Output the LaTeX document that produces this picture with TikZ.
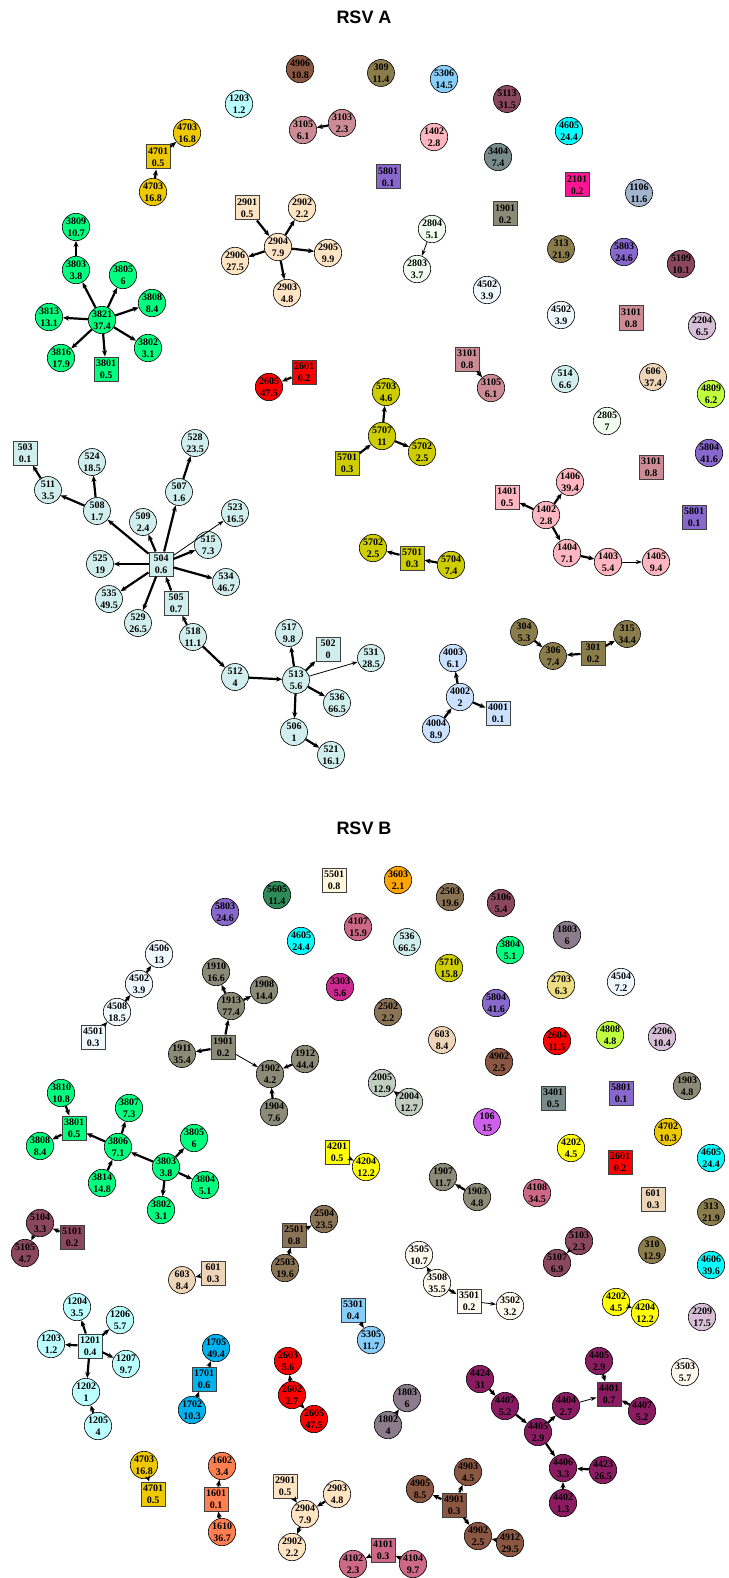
\documentclass[tikz,border=0pt]{standalone}
\usepackage{fontspec}
\setmainfont{Liberation Serif}
\newfontfamily\titlefont{Liberation Sans}
\usetikzlibrary{arrows.meta}
\definecolor{cFA}{HTML}{8B5742}
\definecolor{cOL}{HTML}{8B7D4B}
\definecolor{cBU}{HTML}{8B7355}
\definecolor{cGY}{HTML}{8B8B78}
\definecolor{cTH}{HTML}{8B7B8B}
\definecolor{cSL}{HTML}{7A8B8B}
\definecolor{cMP}{HTML}{8B475D}
\definecolor{cMR}{HTML}{8B1C62}
\definecolor{cPV}{HTML}{CD6889}
\definecolor{cMV}{HTML}{CD2990}
\definecolor{cRO}{HTML}{CD8C95}
\definecolor{cLP}{HTML}{FFB6C1}
\definecolor{cSK}{HTML}{87CEFA}
\definecolor{cDS}{HTML}{00B2EE}
\definecolor{cPC}{HTML}{BBFFFF}
\definecolor{cLC}{HTML}{D1EEEE}
\definecolor{cLS}{HTML}{CAE1FF}
\definecolor{cL3}{HTML}{A2B5CD}
\definecolor{cHD}{HTML}{F0FFF0}
\definecolor{cAB}{HTML}{F0F8FF}
\definecolor{cFW}{HTML}{FFFAF0}
\definecolor{cCS}{HTML}{FFF8DC}
\definecolor{cBQ}{HTML}{FFE4C4}
\definecolor{cB2}{HTML}{EED5B7}
\definecolor{cGO}{HTML}{EEC900}
\definecolor{cY3}{HTML}{CDCD00}
\definecolor{cYE}{HTML}{FFFF00}
\definecolor{cOR}{HTML}{FFA500}
\definecolor{cLG}{HTML}{EEDD82}
\definecolor{cOD}{HTML}{C0FF3E}
\definecolor{cTS}{HTML}{D8BFD8}
\definecolor{cCY}{HTML}{00FFFF}
\definecolor{cPU}{HTML}{8968CD}
\definecolor{cDP}{HTML}{FF1493}
\definecolor{cRE}{HTML}{FF0000}
\definecolor{cCO}{HTML}{FF7F50}
\definecolor{cSG}{HTML}{00FF7F}
\definecolor{cOC}{HTML}{D15FEE}
\definecolor{cSE}{HTML}{2E8B57}
\definecolor{cH3}{HTML}{C1CDC1}
\begin{document}
\begin{tikzpicture}[x=1pt,y=-1pt,
  cn/.style={circle,draw=black,line width=0.6pt,minimum size=27pt,inner sep=0pt,align=center,font=\bfseries\fontsize{10}{12}\selectfont},
  sq/.style={rectangle,draw=black!75,line width=1pt,minimum size=24pt,inner sep=0pt,align=center,font=\bfseries\fontsize{10}{12}\selectfont},
  ed/.style={line width=2.2pt,-{Stealth[length=6pt,width=5pt]}},
  edt/.style={line width=0.8pt,-{Stealth[length=6pt,width=4pt]}},
  ttl/.style={font=\titlefont\bfseries\fontsize{18}{20}\selectfont}]
\useasboundingbox (0,0) rectangle (728,1578);
\node[ttl] (tA) at (364,17) {RSV A};
\node[ttl] (tB) at (364,828) {RSV B};
% ---------- RSV A ----------
\node[cn,fill=cFA] (a4906) at (300,69) {4906\\10.8};
\node[cn,fill=cPC] (a1203) at (239,104) {1203\\1.2};
\node[cn,fill=cRO] (a3105a) at (303,130) {3105\\6.1};
\node[cn,fill=cRO] (a3103) at (342,123) {3103\\2.3};
\node[cn,fill=cGO] (a4703a) at (187,133) {4703\\16.8};
\node[sq,fill=cGO] (a4701) at (158,157) {4701\\0.5};
\node[cn,fill=cGO] (a4703b) at (153,192) {4703\\16.8};
\node[cn,fill=cOL] (a309) at (381,73) {309\\11.4};
\node[cn,fill=cSK] (a5306) at (444,79) {5306\\14.5};
\node[cn,fill=cMP] (a5113) at (507,99) {5113\\31.5};
\node[cn,fill=cCY] (a4605) at (569,131) {4605\\24.4};
\node[cn,fill=cLP] (a1402a) at (434,137) {1402\\2.8};
\node[cn,fill=cSL] (a3404) at (498,157) {3404\\7.4};
\node[sq,fill=cPU] (a5801a) at (388,177) {5801\\0.1};
\node[sq,fill=cDP] (a2101) at (577,185) {2101\\0.2};
\node[cn,fill=cL3] (a1106) at (639,193) {1106\\11.6};
\node[sq,fill=cGY] (a1901) at (505,214) {1901\\0.2};
\node[cn,fill=cHD] (a2804) at (432,229) {2804\\5.1};
\node[cn,fill=cHD] (a2803) at (417,269) {2803\\3.7};
\node[cn,fill=cOL] (a313) at (561,249) {313\\21.9};
\node[cn,fill=cPU] (a5803) at (624,252) {5803\\24.6};
\node[cn,fill=cMP] (a5109) at (681,264) {5109\\10.1};
\node[cn,fill=cSG] (a3809) at (76,227) {3809\\10.7};
\node[cn,fill=cSG] (a3803) at (76,270) {3803\\3.8};
\node[cn,fill=cSG] (a3805) at (123,275) {3805\\6};
\node[cn,fill=cSG] (a3808) at (152,303) {3808\\8.4};
\node[cn,fill=cSG] (a3821) at (102,320) {3821\\37.4};
\node[cn,fill=cSG] (a3813) at (49,317) {3813\\13.1};
\node[cn,fill=cSG] (a3816) at (61,358) {3816\\17.9};
\node[sq,fill=cSG] (a3801) at (106,369) {3801\\0.5};
\node[cn,fill=cSG] (a3802) at (148,348) {3802\\3.1};
\node[sq,fill=cBQ] (a2901) at (247,208) {2901\\0.5};
\node[cn,fill=cBQ] (a2902) at (302,208) {2902\\2.2};
\node[cn,fill=cBQ] (a2904) at (278,247) {2904\\7.9};
\node[cn,fill=cBQ] (a2905) at (328,253) {2905\\9.9};
\node[cn,fill=cBQ] (a2906) at (235,261) {2906\\27.5};
\node[cn,fill=cBQ] (a2903) at (287,293) {2903\\4.8};
\node[cn,fill=cAB] (a4502a) at (487,290) {4502\\3.9};
\node[cn,fill=cAB] (a4502b) at (561,315) {4502\\3.9};
\node[sq,fill=cRO] (a3101a) at (631,318) {3101\\0.8};
\node[cn,fill=cTS] (a2204) at (702,326) {2204\\6.5};
\node[sq,fill=cRO] (a3101b) at (467,359) {3101\\0.8};
\node[cn,fill=cRO] (a3105b) at (491,388) {3105\\6.1};
\node[cn,fill=cLC] (a514) at (565,379) {514\\6.6};
\node[cn,fill=cB2] (a606) at (653,377) {606\\37.4};
\node[cn,fill=cOD] (a4809) at (711,394) {4809\\6.2};
\node[cn,fill=cHD] (a2805) at (607,421) {2805\\7};
\node[cn,fill=cY3] (a5703) at (386,392) {5703\\4.6};
\node[cn,fill=cY3] (a5707) at (382,436) {5707\\11};
\node[cn,fill=cY3] (a5702a) at (422,452) {5702\\2.5};
\node[sq,fill=cY3] (a5701a) at (347,463) {5701\\0.3};
\node[sq,fill=cRO] (a3101c) at (651,467) {3101\\0.8};
\node[cn,fill=cPU] (a5804) at (709,453) {5804\\41.6};
\node[cn,fill=cLP] (a1406) at (570,482) {1406\\39.4};
\node[sq,fill=cLP] (a1401) at (507,497) {1401\\0.5};
\node[cn,fill=cLP] (a1402b) at (546,515) {1402\\2.8};
\node[sq,fill=cPU] (a5801b) at (694,517) {5801\\0.1};
\node[sq,fill=cRE] (a2601) at (304,372) {2601\\0.2};
\node[cn,fill=cRE] (a2605) at (269,387) {2605\\47.5};
\node[sq,fill=cLC] (a503) at (25,453) {503\\0.1};
\node[cn,fill=cLC] (a524) at (92,462) {524\\18.5};
\node[cn,fill=cLC] (a528) at (195,443) {528\\23.5};
\node[cn,fill=cLC] (a511) at (48,490) {511\\3.5};
\node[cn,fill=cLC] (a507) at (179,492) {507\\1.6};
\node[cn,fill=cLC] (a508) at (97,511) {508\\1.7};
\node[cn,fill=cLC] (a523) at (235,513) {523\\16.5};
\node[cn,fill=cLC] (a509) at (143,522) {509\\2.4};
\node[cn,fill=cLC] (a515) at (208,545) {515\\7.3};
\node[sq,fill=cLC] (a504) at (161,564) {504\\0.6};
\node[cn,fill=cLC] (a525) at (100,564) {525\\19};
\node[cn,fill=cLC] (a534) at (226,582) {534\\46.7};
\node[cn,fill=cLC] (a535) at (109,599) {535\\49.5};
\node[sq,fill=cLC] (a505) at (176,603) {505\\0.7};
\node[cn,fill=cLC] (a529) at (138,623) {529\\26.5};
\node[cn,fill=cLC] (a518) at (193,637) {518\\11.1};
\node[cn,fill=cLC] (a517) at (289,633) {517\\9.8};
\node[sq,fill=cLC] (a502) at (328,649) {502\\0};
\node[cn,fill=cLC] (a512) at (235,677) {512\\4};
\node[cn,fill=cLC] (a513) at (296,680) {513\\5.6};
\node[cn,fill=cLC] (a536) at (337,703) {536\\66.5};
\node[cn,fill=cLC] (a506) at (294,732) {506\\1};
\node[cn,fill=cLC] (a521) at (331,755) {521\\16.1};
\node[cn,fill=cLC] (a531) at (371,658) {531\\28.5};
\node[cn,fill=cLP] (a1404) at (567,553) {1404\\7.1};
\node[cn,fill=cLP] (a1403) at (608,562) {1403\\5.4};
\node[cn,fill=cLP] (a1405) at (656,562) {1405\\9.4};
\node[cn,fill=cY3] (a5702b) at (373,548) {5702\\2.5};
\node[sq,fill=cY3] (a5701b) at (412,558) {5701\\0.3};
\node[cn,fill=cY3] (a5704) at (451,565) {5704\\7.4};
\node[cn,fill=cOL] (a304) at (524,632) {304\\5.3};
\node[cn,fill=cOL] (a306) at (553,656) {306\\7.4};
\node[sq,fill=cOL] (a301) at (593,653) {301\\0.2};
\node[cn,fill=cOL] (a315) at (627,634) {315\\34.4};
\node[cn,fill=cLS] (a4003) at (453,658) {4003\\6.1};
\node[cn,fill=cLS] (a4002) at (460,697) {4002\\2};
\node[sq,fill=cLS] (a4001) at (498,713) {4001\\0.1};
\node[cn,fill=cLS] (a4004) at (436,729) {4004\\8.9};
% edges A
\draw[ed] (a3103) -- (a3105a);
\draw[ed] (a4701) -- (a4703a);
\draw[ed] (a4703b) -- (a4701);
\draw[ed] (a3803) -- (a3809);
\foreach \t in {a3803,a3805,a3808,a3813,a3816,a3801,a3802} \draw[ed] (a3821) -- (\t);
\draw[ed] (a2901) -- (a2904);
\foreach \t in {a2902,a2905,a2906,a2903} \draw[ed] (a2904) -- (\t);
\draw[edt] (a2804) -- (a2803);
\draw[ed] (a3101b) -- (a3105b);
\draw[ed] (a5707) -- (a5703);
\draw[ed] (a5707) -- (a5702a);
\draw[ed] (a5701a) -- (a5707);
\draw[ed] (a2601) -- (a2605);
\draw[ed] (a1402b) -- (a1406);
\draw[ed] (a1402b) -- (a1401);
\draw[ed] (a1402b) -- (a1404);
\draw[ed] (a1404) -- (a1403);
\draw[edt] (a1403) -- (a1405);
\draw[ed] (a5701b) -- (a5702b);
\draw[ed] (a5704) -- (a5701b);
\draw[ed] (a304) -- (a306);
\draw[ed] (a301) -- (a306);
\draw[ed] (a301) -- (a315);
\draw[ed] (a4002) -- (a4003);
\draw[ed] (a4002) -- (a4001);
\draw[ed] (a4004) -- (a4002);
\draw[ed] (a511) -- (a503);
\draw[ed] (a508) -- (a511);
\draw[ed] (a508) -- (a524);
\draw[ed] (a507) -- (a528);
\foreach \t in {a508,a509,a507,a515,a525,a534,a535,a529} \draw[ed] (a504) -- (\t);
\draw[edt] (a504) -- (a523);
\draw[ed] (a505) -- (a504);
\draw[ed] (a518) -- (a505);
\draw[ed] (a518) -- (a512);
\draw[ed] (a512) -- (a513);
\foreach \t in {a517,a502,a536,a506} \draw[ed] (a513) -- (\t);
\draw[edt] (a513) -- (a531);
\draw[ed] (a506) -- (a521);
% ---------- RSV B ----------
\node[sq,fill=cCS] (b5501) at (334,880) {5501\\0.8};
\node[cn,fill=cSE] (b5605) at (277,895) {5605\\11.4};
\node[cn,fill=cPU] (b5803) at (225,912) {5803\\24.6};
\node[cn,fill=cCY] (b4605a) at (301,941) {4605\\24.4};
\node[cn,fill=cPV] (b4107) at (358,927) {4107\\15.9};
\node[cn,fill=cOR] (b3603) at (398,880) {3603\\2.1};
\node[cn,fill=cBU] (b2503a) at (450,897) {2503\\19.6};
\node[cn,fill=cMP] (b5106) at (501,903) {5106\\5.4};
\node[cn,fill=cLC] (b536) at (407,942) {536\\66.5};
\node[cn,fill=cTH] (b1803a) at (567,935) {1803\\6};
\node[cn,fill=cSG] (b3804a) at (510,950) {3804\\5.1};
\node[cn,fill=cY3] (b5710) at (449,968) {5710\\15.8};
\node[cn,fill=cLG] (b2703) at (561,985) {2703\\6.3};
\node[cn,fill=cAB] (b4504) at (621,982) {4504\\7.2};
\node[cn,fill=cPU] (b5804) at (496,1003) {5804\\41.6};
\node[cn,fill=cBU] (b2502) at (388,1012) {2502\\2.2};
\node[cn,fill=cB2] (b603a) at (442,1040) {603\\8.4};
\node[cn,fill=cRE] (b2604) at (557,1041) {2604\\11.5};
\node[cn,fill=cOD] (b4808) at (610,1035) {4808\\4.8};
\node[cn,fill=cTS] (b2206) at (662,1037) {2206\\10.4};
\node[cn,fill=cFA] (b4902a) at (499,1062) {4902\\2.5};
\node[cn,fill=cAB] (b4506) at (159,954) {4506\\13};
\node[cn,fill=cAB] (b4502) at (139,984) {4502\\3.9};
\node[cn,fill=cAB] (b4508) at (117,1012) {4508\\18.5};
\node[sq,fill=cAB] (b4501) at (93,1037) {4501\\0.3};
\node[cn,fill=cGY] (b1910) at (216,972) {1910\\16.6};
\node[cn,fill=cGY] (b1908) at (264,990) {1908\\14.4};
\node[cn,fill=cGY] (b1913) at (231,1006) {1913\\77.4};
\node[cn,fill=cMV] (b3303) at (340,987) {3303\\5.6};
\node[sq,fill=cGY] (b1901) at (223,1047) {1901\\0.2};
\node[cn,fill=cGY] (b1911) at (182,1054) {1911\\35.4};
\node[cn,fill=cGY] (b1912) at (305,1059) {1912\\44.4};
\node[cn,fill=cGY] (b1902) at (270,1074) {1902\\4.2};
\node[cn,fill=cGY] (b1904) at (274,1112) {1904\\7.6};
\node[cn,fill=cH3] (b2005) at (382,1083) {2005\\12.9};
\node[cn,fill=cH3] (b2004) at (409,1102) {2004\\12.7};
\node[sq,fill=cSL] (b3401) at (553,1098) {3401\\0.5};
\node[sq,fill=cPU] (b5801) at (621,1093) {5801\\0.1};
\node[cn,fill=cGY] (b1903a) at (687,1086) {1903\\4.8};
\node[cn,fill=cOC] (b106) at (487,1122) {106\\15};
\node[cn,fill=cGO] (b4702) at (668,1132) {4702\\10.3};
\node[cn,fill=cYE] (b4202a) at (571,1148) {4202\\4.5};
\node[sq,fill=cRE] (b2601) at (620,1162) {2601\\0.2};
\node[cn,fill=cCY] (b4605b) at (711,1158) {4605\\24.4};
\node[cn,fill=cGY] (b1907) at (443,1177) {1907\\11.7};
\node[cn,fill=cGY] (b1903b) at (477,1197) {1903\\4.8};
\node[cn,fill=cPV] (b4108) at (537,1193) {4108\\34.5};
\node[sq,fill=cB2] (b601a) at (653,1199) {601\\0.3};
\node[cn,fill=cOL] (b313) at (711,1212) {313\\21.9};
\node[cn,fill=cMP] (b5103) at (579,1241) {5103\\2.3};
\node[cn,fill=cMP] (b5107) at (557,1263) {5107\\6.9};
\node[cn,fill=cOL] (b310) at (652,1250) {310\\12.9};
\node[cn,fill=cCY] (b4606) at (711,1265) {4606\\39.6};
\node[cn,fill=cFW] (b3505) at (419,1255) {3505\\10.7};
\node[cn,fill=cFW] (b3508) at (437,1283) {3508\\35.5};
\node[sq,fill=cFW] (b3501) at (469,1301) {3501\\0.2};
\node[cn,fill=cFW] (b3502) at (510,1306) {3502\\3.2};
\node[cn,fill=cYE] (b4202b) at (616,1302) {4202\\4.5};
\node[cn,fill=cYE] (b4204b) at (645,1313) {4204\\12.2};
\node[cn,fill=cTS] (b2209) at (702,1317) {2209\\17.5};
\node[cn,fill=cSG] (b3810) at (61,1093) {3810\\10.8};
\node[cn,fill=cSG] (b3807) at (129,1108) {3807\\7.3};
\node[sq,fill=cSG] (b3801) at (74,1128) {3801\\0.5};
\node[cn,fill=cSG] (b3808) at (40,1146) {3808\\8.4};
\node[cn,fill=cSG] (b3806) at (118,1147) {3806\\7.1};
\node[cn,fill=cSG] (b3805) at (194,1138) {3805\\6};
\node[cn,fill=cSG] (b3803) at (166,1167) {3803\\3.8};
\node[cn,fill=cSG] (b3804b) at (205,1185) {3804\\5.1};
\node[cn,fill=cSG] (b3814) at (102,1183) {3814\\14.8};
\node[cn,fill=cSG] (b3802) at (161,1210) {3802\\3.1};
\node[sq,fill=cYE] (b4201) at (337,1152) {4201\\0.5};
\node[cn,fill=cYE] (b4204a) at (366,1167) {4204\\12.2};
\node[cn,fill=cMP] (b5104) at (40,1223) {5104\\3.3};
\node[sq,fill=cMP] (b5101) at (72,1237) {5101\\0.2};
\node[cn,fill=cMP] (b5105) at (25,1253) {5105\\4.7};
\node[cn,fill=cBU] (b2504) at (324,1219) {2504\\23.5};
\node[sq,fill=cBU] (b2501) at (294,1235) {2501\\0.8};
\node[cn,fill=cBU] (b2503b) at (285,1268) {2503\\19.6};
\node[cn,fill=cB2] (b603b) at (182,1280) {603\\8.4};
\node[sq,fill=cB2] (b601b) at (213,1273) {601\\0.3};
\node[sq,fill=cSK] (b5301) at (353,1310) {5301\\0.4};
\node[cn,fill=cSK] (b5305) at (371,1340) {5305\\11.7};
\node[cn,fill=cPC] (b1204) at (77,1307) {1204\\3.5};
\node[cn,fill=cPC] (b1206) at (120,1320) {1206\\5.7};
\node[cn,fill=cPC] (b1203) at (51,1344) {1203\\1.2};
\node[sq,fill=cPC] (b1201) at (90,1346) {1201\\0.4};
\node[cn,fill=cPC] (b1207) at (126,1364) {1207\\9.7};
\node[cn,fill=cPC] (b1202) at (86,1392) {1202\\1};
\node[cn,fill=cPC] (b1205) at (98,1426) {1205\\4};
\node[cn,fill=cDS] (b1705) at (216,1348) {1705\\49.4};
\node[sq,fill=cDS] (b1701) at (204,1379) {1701\\0.6};
\node[cn,fill=cDS] (b1702) at (192,1410) {1702\\10.3};
\node[cn,fill=cRE] (b2603) at (288,1361) {2603\\5.6};
\node[cn,fill=cRE] (b2602) at (292,1395) {2602\\2.7};
\node[cn,fill=cRE] (b2605) at (314,1419) {2605\\47.5};
\node[cn,fill=cGO] (b4703) at (144,1465) {4703\\16.8};
\node[sq,fill=cGO] (b4701) at (153,1494) {4701\\0.5};
\node[cn,fill=cCO] (b1602) at (222,1466) {1602\\3.4};
\node[sq,fill=cCO] (b1601) at (216,1499) {1601\\0.1};
\node[cn,fill=cCO] (b1610) at (222,1532) {1610\\36.7};
\node[sq,fill=cBQ] (b2901) at (285,1486) {2901\\0.5};
\node[cn,fill=cBQ] (b2903) at (337,1494) {2903\\4.8};
\node[cn,fill=cBQ] (b2904) at (305,1514) {2904\\7.9};
\node[cn,fill=cBQ] (b2902) at (292,1547) {2902\\2.2};
\node[cn,fill=cPV] (b4102) at (353,1564) {4102\\2.3};
\node[sq,fill=cPV] (b4101) at (383,1550) {4101\\0.3};
\node[cn,fill=cPV] (b4104) at (413,1564) {4104\\9.7};
\node[cn,fill=cMR] (b4405a) at (599,1361) {4405\\2.9};
\node[cn,fill=cFW] (b3503) at (685,1372) {3503\\5.7};
\node[cn,fill=cMR] (b4424) at (480,1379) {4424\\31};
\node[sq,fill=cMR] (b4401) at (609,1394) {4401\\0.7};
\node[cn,fill=cMR] (b4404) at (566,1406) {4404\\2.7};
\node[cn,fill=cMR] (b4407a) at (505,1406) {4407\\5.2};
\node[cn,fill=cMR] (b4407b) at (642,1411) {4407\\5.2};
\node[cn,fill=cTH] (b1803b) at (407,1398) {1803\\6};
\node[cn,fill=cTH] (b1802) at (388,1425) {1802\\4};
\node[cn,fill=cMR] (b4405b) at (538,1432) {4405\\2.9};
\node[cn,fill=cMR] (b4406) at (563,1468) {4406\\3.3};
\node[cn,fill=cMR] (b4423) at (603,1470) {4423\\26.5};
\node[cn,fill=cMR] (b4402) at (563,1503) {4402\\1.3};
\node[cn,fill=cFA] (b4903) at (468,1472) {4903\\4.5};
\node[cn,fill=cFA] (b4905) at (420,1489) {4905\\8.5};
\node[sq,fill=cFA] (b4901) at (454,1505) {4901\\0.3};
\node[cn,fill=cFA] (b4902b) at (478,1536) {4902\\2.5};
\node[cn,fill=cFA] (b4912) at (510,1543) {4912\\29.5};
% edges B
\draw[ed] (b4502) -- (b4506);
\draw[ed] (b4508) -- (b4502);
\draw[ed] (b4501) -- (b4508);
\draw[ed] (b1913) -- (b1910);
\draw[ed] (b1913) -- (b1908);
\draw[ed] (b1901) -- (b1913);
\draw[ed] (b1901) -- (b1911);
\draw[edt] (b1901) -- (b1902);
\draw[ed] (b1912) -- (b1902);
\draw[ed] (b1904) -- (b1902);
\draw[ed] (b2004) -- (b2005);
\draw[ed] (b1903b) -- (b1907);
\draw[ed] (b5103) -- (b5107);
\draw[ed] (b3508) -- (b3505);
\draw[ed] (b3508) -- (b3501);
\draw[edt] (b3501) -- (b3502);
\draw[ed] (b4202b) -- (b4204b);
\draw[ed] (b3810) -- (b3801);
\draw[ed] (b3801) -- (b3808);
\draw[ed] (b3806) -- (b3801);
\draw[ed] (b3806) -- (b3807);
\draw[ed] (b3814) -- (b3806);
\draw[ed] (b3803) -- (b3806);
\draw[ed] (b3803) -- (b3805);
\draw[ed] (b3803) -- (b3804b);
\draw[ed] (b3803) -- (b3802);
\draw[ed] (b4201) -- (b4204a);
\draw[ed] (b5101) -- (b5104);
\draw[ed] (b5104) -- (b5105);
\draw[ed] (b2501) -- (b2504);
\draw[ed] (b2503b) -- (b2501);
\draw[ed] (b601b) -- (b603b);
\draw[ed] (b5301) -- (b5305);
\foreach \t in {b1204,b1206,b1203,b1207,b1202} \draw[ed] (b1201) -- (\t);
\draw[ed] (b1205) -- (b1202);
\draw[ed] (b1701) -- (b1705);
\draw[ed] (b1702) -- (b1701);
\draw[ed] (b2602) -- (b2603);
\draw[ed] (b2602) -- (b2605);
\draw[ed] (b4703) -- (b4701);
\draw[ed] (b1601) -- (b1602);
\draw[ed] (b1610) -- (b1601);
\draw[ed] (b2901) -- (b2904);
\draw[ed] (b2903) -- (b2904);
\draw[ed] (b2904) -- (b2902);
\draw[ed] (b4101) -- (b4102);
\draw[ed] (b4104) -- (b4101);
\draw[ed] (b4405a) -- (b4401);
\draw[ed] (b4407b) -- (b4401);
\draw[edt] (b4404) -- (b4401);
\draw[ed] (b4405b) -- (b4404);
\draw[ed] (b4424) -- (b4407a);
\draw[ed] (b4407a) -- (b4405b);
\draw[ed] (b4405b) -- (b4406);
\draw[ed] (b4423) -- (b4406);
\draw[ed] (b4402) -- (b4406);
\draw[ed] (b1802) -- (b1803b);
\draw[ed] (b4901) -- (b4903);
\draw[ed] (b4901) -- (b4905);
\draw[ed] (b4901) -- (b4902b);
\draw[ed] (b4912) -- (b4902b);
\end{tikzpicture}
\end{document}
